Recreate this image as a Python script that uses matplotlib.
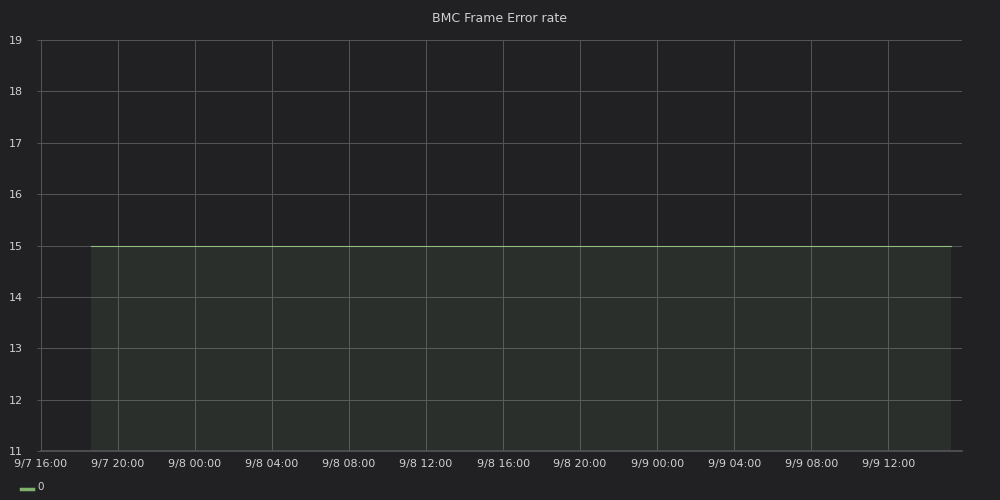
import matplotlib
matplotlib.use("Agg")
import matplotlib.pyplot as plt
import matplotlib.dates as mdates
from datetime import datetime

# Data
times = [datetime(2020, 9, 7, 18, 36), datetime(2020, 9, 8, 4, 0), datetime(2020, 9, 8, 16, 0),
         datetime(2020, 9, 9, 4, 0), datetime(2020, 9, 9, 15, 16)]
values = [15, 15, 15, 15, 15]
series_name = "0"
title = "BMC Frame Error rate"
tick_times = [datetime(2020, 9, 7, 16, 0), datetime(2020, 9, 7, 20, 0), datetime(2020, 9, 8, 0, 0),
              datetime(2020, 9, 8, 4, 0), datetime(2020, 9, 8, 8, 0), datetime(2020, 9, 8, 12, 0),
              datetime(2020, 9, 8, 16, 0), datetime(2020, 9, 8, 20, 0), datetime(2020, 9, 9, 0, 0),
              datetime(2020, 9, 9, 4, 0), datetime(2020, 9, 9, 8, 0), datetime(2020, 9, 9, 12, 0)]
tick_labels = ["9/7 16:00", "9/7 20:00", "9/8 00:00", "9/8 04:00", "9/8 08:00", "9/8 12:00",
               "9/8 16:00", "9/8 20:00", "9/9 00:00", "9/9 04:00", "9/9 08:00", "9/9 12:00"]
y_ticks = [11, 12, 13, 14, 15, 16, 17, 18, 19]
x_start = datetime(2020, 9, 7, 16, 0)
x_end = datetime(2020, 9, 9, 15, 50)

bg = "#212124"
text_col = "#d0d0d0"
grid_col = "#555558"
line_col = "#8fbf7d"
fill_col = "#7eb26d"

fig = plt.figure(figsize=(10, 5), dpi=100, facecolor=bg)
ax = fig.add_axes([0.041, 0.098, 0.921, 0.822], facecolor=bg)

ax.fill_between(times, values, 11, color=fill_col, alpha=0.1, linewidth=0)
ax.plot(times, values, color=line_col, linewidth=0.8)

ax.set_xlim(x_start, x_end)
ax.set_ylim(11, 19)
ax.set_xticks([mdates.date2num(t) for t in tick_times])
ax.set_xticklabels(tick_labels)
ax.set_yticks(y_ticks)

for s in ax.spines.values():
    s.set_visible(False)
ax.grid(True, color=grid_col, linewidth=0.7)
ax.set_axisbelow(True)
ax.axhline(11, color=grid_col, linewidth=1.2, clip_on=False)
ax.tick_params(axis="both", colors=grid_col, labelcolor=text_col, labelsize=8, length=3, width=0.7)
ax.tick_params(axis="x", length=0, pad=6)
ax.tick_params(axis="y", pad=10)
for lbl in ax.get_yticklabels():
    lbl.set_horizontalalignment("right")

fig.text(0.5, 0.963, title, color=text_col, fontsize=9, ha="center", va="center")

# legend
fig.lines.append(plt.Line2D([0.021, 0.033], [0.023, 0.023], color=fill_col, linewidth=2.5,
                            transform=fig.transFigure))
fig.text(0.037, 0.027, series_name, color=text_col, fontsize=7.5, ha="left", va="center")

fig.savefig("out.png", dpi=100, facecolor=bg)
